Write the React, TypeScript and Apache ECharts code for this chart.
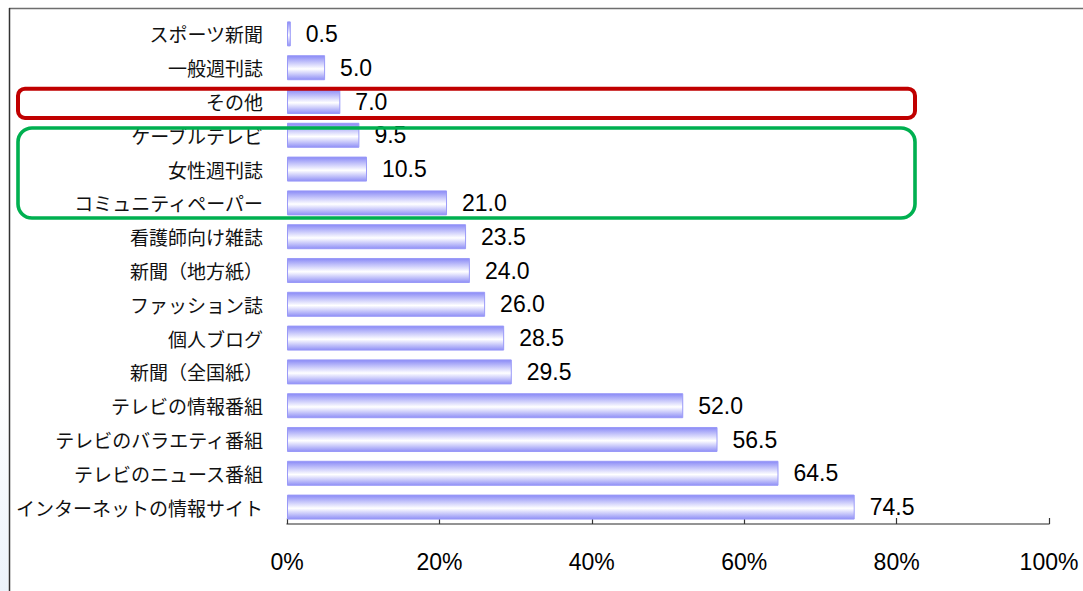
import React, { useEffect, useRef } from "react";
import * as echarts from "echarts";

const categories = [
  "スポーツ新聞",
  "一般週刊誌",
  "その他",
  "ケーブルテレビ",
  "女性週刊誌",
  "コミュニティペーパー",
  "看護師向け雑誌",
  "新聞（地方紙）",
  "ファッション誌",
  "個人ブログ",
  "新聞（全国紙）",
  "テレビの情報番組",
  "テレビのバラエティ番組",
  "テレビのニュース番組",
  "インターネットの情報サイト",
];
const values = [0.5, 5.0, 7.0, 9.5, 10.5, 21.0, 23.5, 24.0, 26.0, 28.5, 29.5, 52.0, 56.5, 64.5, 74.5];
const xTicks = [0, 20, 40, 60, 80, 100];

export default function App() {
  const ref = useRef<HTMLDivElement>(null);
  useEffect(() => {
    if (!ref.current) return;
    const chart = echarts.init(ref.current, null, { renderer: "svg" });
    const barColor = new echarts.graphic.LinearGradient(0, 0, 0, 1, [
      { offset: 0, color: "#8a8af6" },
      { offset: 0.55, color: "#ffffff" },
      { offset: 1, color: "#9090f6" },
    ]);
    chart.setOption({
      animation: false,
      backgroundColor: "#ffffff",
      grid: { left: 287, right: 34, top: 17, bottom: 67, containLabel: false },
      xAxis: {
        type: "value",
        min: xTicks[0],
        max: xTicks[xTicks.length - 1],
        interval: 20,
        axisLine: { show: true, lineStyle: { color: "#707070", width: 1.5 } },
        axisTick: { show: true, inside: true, length: 6, lineStyle: { color: "#333", width: 1.2 } },
        splitLine: { show: false },
        axisLabel: {
          formatter: "{value}%",
          margin: 26,
          color: "#000",
          fontSize: 23,
          fontFamily: "Liberation Sans, Arial, sans-serif",
        },
      },
      yAxis: {
        type: "category",
        data: categories,
        inverse: true,
        axisLine: { show: false },
        axisTick: { show: false },
        axisLabel: {
          margin: 24,
          color: "#111",
          fontSize: 19,
          fontFamily: "Noto Sans CJK JP, sans-serif",
        },
      },
      series: [
        {
          type: "bar",
          data: values,
          barCategoryGap: "26%",
          itemStyle: { color: barColor, borderColor: "#9a9af8", borderWidth: 1 },
          label: {
            show: true,
            position: "right",
            distance: 15,
            color: "#000",
            fontSize: 23,
            fontFamily: "Liberation Sans, Arial, sans-serif",
            formatter: (p: any) => Number(p.value).toFixed(1),
          },
        },
      ],
      graphic: [
        {
          type: "rect",
          z: 50,
          shape: { x: 0, y: 380, width: 8.5, height: 211 },
          style: {
            fill: new echarts.graphic.LinearGradient(0, 0, 0, 1, [
              { offset: 0, color: "#ffffff" },
              { offset: 1, color: "#ecf3fb" },
            ]),
          },
        },
        {
          type: "line",
          z: 100,
          shape: { x1: 9, y1: 8.5, x2: 1083, y2: 8.5 },
          style: { stroke: "#6e6e6e", lineWidth: 1.5 },
        },
        {
          type: "line",
          z: 100,
          shape: { x1: 9.5, y1: 8, x2: 9.5, y2: 591 },
          style: { stroke: "#333333", lineWidth: 1.5 },
        },
        {
          type: "rect",
          z: 100,
          shape: { x: 18, y: 88.7, width: 897, height: 29.3, r: 7 },
          style: { fill: "none", stroke: "#c00000", lineWidth: 4 },
        },
        {
          type: "rect",
          z: 100,
          shape: { x: 18, y: 128, width: 897, height: 90, r: 14 },
          style: { fill: "none", stroke: "#00b050", lineWidth: 3.6 },
        },
      ],
    });
    return () => chart.dispose();
  }, []);
  return (
    <div
      ref={ref}
      style={{ position: "fixed", left: 0, top: 0, width: 1083, height: 591 }}
    />
  );
}
